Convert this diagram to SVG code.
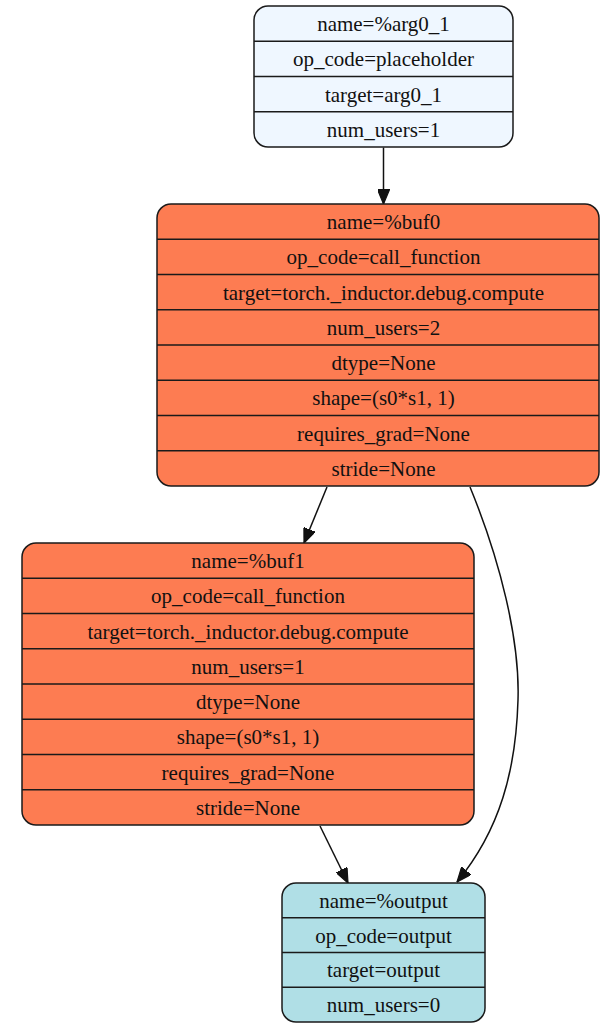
<svg xmlns="http://www.w3.org/2000/svg" width="600" height="1023" viewBox="0 0 600 1023">
<defs>
<style>
.box{stroke:#1a1a1a;stroke-width:1.5}
.ln{stroke:#1a1a1a;stroke-width:1.5}
text{font-family:"Liberation Serif","Times New Roman",serif;font-size:21px;fill:#111;text-anchor:middle}
.edge{fill:none;stroke:#111;stroke-width:1.5}
</style>
<marker id="arr" viewBox="0 0 12 10" refX="12" refY="5" markerWidth="15" markerHeight="12" markerUnits="userSpaceOnUse" orient="auto">
<path d="M0,0 L12,5 L0,10 z" fill="#111" stroke="#111"/>
</marker>
</defs>
<g id="edges">
<path class="edge" d="M383.5,147.5 L383.5,204" marker-end="url(#arr)"/>
<path class="edge" d="M327,487 L304,543" marker-end="url(#arr)"/>
<path class="edge" d="M470,487 C500,560 520,640 518,700 C516,770 500,830 457,882" marker-end="url(#arr)"/>
<path class="edge" d="M320,826 L348,883" marker-end="url(#arr)"/>
</g>
<g id="arg0_1">
<rect class="box" x="254" y="6" width="259" height="141" rx="14" fill="#eff7ff"/>
<line class="ln" x1="254" y1="41.25" x2="513" y2="41.25"/>
<line class="ln" x1="254" y1="76.5" x2="513" y2="76.5"/>
<line class="ln" x1="254" y1="111.75" x2="513" y2="111.75"/>
<text x="383.5" y="31">name=%arg0_1</text>
<text x="383.5" y="66">op_code=placeholder</text>
<text x="383.5" y="101.5">target=arg0_1</text>
<text x="383.5" y="136.5">num_users=1</text>
</g>
<g id="buf0">
<rect class="box" x="157" y="204" width="442" height="282" rx="14" fill="#fd7c52"/>
<line class="ln" x1="157" y1="239.25" x2="599" y2="239.25"/>
<line class="ln" x1="157" y1="274.5" x2="599" y2="274.5"/>
<line class="ln" x1="157" y1="309.75" x2="599" y2="309.75"/>
<line class="ln" x1="157" y1="345" x2="599" y2="345"/>
<line class="ln" x1="157" y1="380.25" x2="599" y2="380.25"/>
<line class="ln" x1="157" y1="415.5" x2="599" y2="415.5"/>
<line class="ln" x1="157" y1="450.75" x2="599" y2="450.75"/>
<text x="383.5" y="229">name=%buf0</text>
<text x="383.5" y="264">op_code=call_function</text>
<text x="383.5" y="299.5">target=torch._inductor.debug.compute</text>
<text x="383.5" y="334.5">num_users=2</text>
<text x="383.5" y="370">dtype=None</text>
<text x="383.5" y="405">shape=(s0*s1, 1)</text>
<text x="383.5" y="440.5">requires_grad=None</text>
<text x="383.5" y="475.5">stride=None</text>
</g>
<g id="buf1">
<rect class="box" x="22" y="543" width="452" height="282" rx="14" fill="#fd7c52"/>
<line class="ln" x1="22" y1="578.25" x2="474" y2="578.25"/>
<line class="ln" x1="22" y1="613.5" x2="474" y2="613.5"/>
<line class="ln" x1="22" y1="648.75" x2="474" y2="648.75"/>
<line class="ln" x1="22" y1="684" x2="474" y2="684"/>
<line class="ln" x1="22" y1="719.25" x2="474" y2="719.25"/>
<line class="ln" x1="22" y1="754.5" x2="474" y2="754.5"/>
<line class="ln" x1="22" y1="789.75" x2="474" y2="789.75"/>
<text x="248" y="568">name=%buf1</text>
<text x="248" y="603">op_code=call_function</text>
<text x="248" y="638.5">target=torch._inductor.debug.compute</text>
<text x="248" y="673.5">num_users=1</text>
<text x="248" y="709">dtype=None</text>
<text x="248" y="744">shape=(s0*s1, 1)</text>
<text x="248" y="779.5">requires_grad=None</text>
<text x="248" y="814.5">stride=None</text>
</g>
<g id="output">
<rect class="box" x="282" y="883" width="203" height="139" rx="14" fill="#b0dfe6"/>
<line class="ln" x1="282" y1="917.75" x2="485" y2="917.75"/>
<line class="ln" x1="282" y1="952.5" x2="485" y2="952.5"/>
<line class="ln" x1="282" y1="987.25" x2="485" y2="987.25"/>
<text x="383.5" y="908">name=%output</text>
<text x="383.5" y="942.5">op_code=output</text>
<text x="383.5" y="977">target=output</text>
<text x="383.5" y="1012">num_users=0</text>
</g>
</svg>
